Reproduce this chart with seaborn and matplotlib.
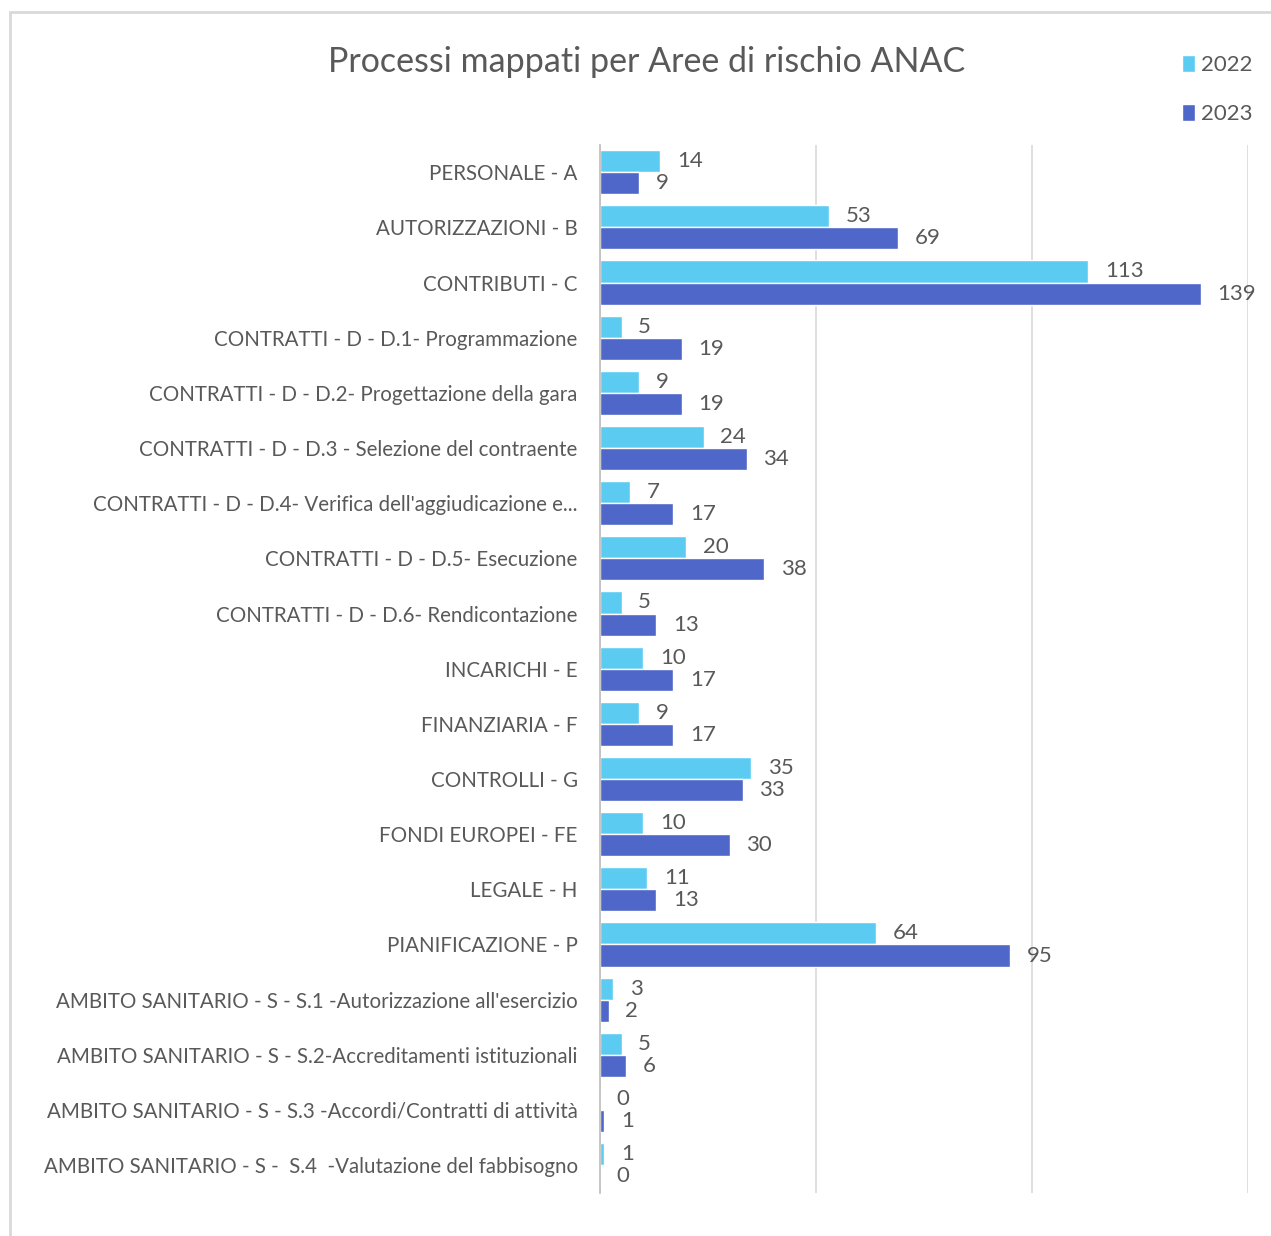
import pandas as pd
import matplotlib.pyplot as plt
import seaborn as sns
from matplotlib.patches import Rectangle

categories = [
    "PERSONALE - A",
    "AUTORIZZAZIONI - B",
    "CONTRIBUTI - C",
    "CONTRATTI - D - D.1- Programmazione",
    "CONTRATTI - D - D.2- Progettazione della gara",
    "CONTRATTI - D - D.3 - Selezione del contraente",
    "CONTRATTI - D - D.4- Verifica dell'aggiudicazione e...",
    "CONTRATTI - D - D.5- Esecuzione",
    "CONTRATTI - D - D.6- Rendicontazione",
    "INCARICHI - E",
    "FINANZIARIA - F",
    "CONTROLLI - G",
    "FONDI EUROPEI - FE",
    "LEGALE - H",
    "PIANIFICAZIONE - P",
    "AMBITO SANITARIO - S - S.1 -Autorizzazione all'esercizio",
    "AMBITO SANITARIO - S - S.2-Accreditamenti istituzionali",
    "AMBITO SANITARIO - S - S.3 -Accordi/Contratti di attività",
    "AMBITO SANITARIO - S -  S.4  -Valutazione del fabbisogno",
]
values_2022 = [14, 53, 113, 5, 9, 24, 7, 20, 5, 10, 9, 35, 10, 11, 64, 3, 5, 0, 1]
values_2023 = [9, 69, 139, 19, 19, 34, 17, 38, 13, 17, 17, 33, 30, 13, 95, 2, 6, 1, 0]
years = ["2022", "2023"]

df = pd.DataFrame({
    "area": categories * 2,
    "anno": [years[0]] * len(categories) + [years[1]] * len(categories),
    "processi": values_2022 + values_2023,
})

sns.set_theme(style="white")
plt.rcParams['font.family'] = ['Lato', 'DejaVu Sans']
grey_text = "#595959"

fig = plt.figure(figsize=(12.71, 12.36), dpi=100)
ax = fig.add_axes([0.472, 0.035, 0.510, 0.848])

palette = {"2022": "#5BCBF2", "2023": "#4F67C9"}
sns.barplot(data=df, y="area", x="processi", hue="anno", order=categories,
            hue_order=years, palette=palette, orient="h", width=0.8,
            saturation=1, ax=ax)

for cont in ax.containers:
    ax.bar_label(cont, padding=12, fontsize=16, color=grey_text)

ax.set_xlim(0, 150)
ax.set_xticks([0, 50, 100, 150])
ax.set_xticklabels([])
ax.xaxis.grid(True, color="#D9D9D9", linewidth=1.2)
ax.set_axisbelow(True)
for s in ["top", "right", "bottom"]:
    ax.spines[s].set_visible(False)
ax.spines["left"].set_color("#BFBFBF")
ax.tick_params(axis="both", length=0)
ax.tick_params(axis="y", pad=16, labelsize=14.8, labelcolor=grey_text)
ax.set_xlabel("")
ax.set_ylabel("")

handles, labels = ax.get_legend_handles_labels()
ax.get_legend().remove()
fig.legend(handles, labels, loc="upper left",
           bbox_to_anchor=(1162 / 1271, 1 - 35 / 1236), frameon=False,
           fontsize=16, handlelength=0.6, handleheight=0.8,
           handletextpad=0.25, labelspacing=1.3, labelcolor=grey_text)

fig.text(0.509, 0.950, "Processi mappati per Aree di rischio ANAC",
         ha="center", va="center", fontsize=24.5, color=grey_text)

fig.patches.append(Rectangle((10 / 1271, -0.1), 1.2, 1 - 12 / 1236 + 0.1,
                             transform=fig.transFigure, fill=False,
                             edgecolor="#D9D9D9", linewidth=2))

fig.savefig("out.png", dpi=100)
